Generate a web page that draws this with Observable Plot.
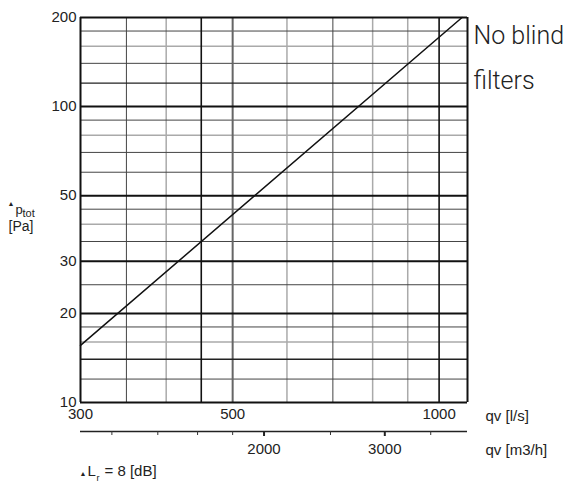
<!DOCTYPE html>
<html>
<head>
<meta charset="utf-8">
<script src="https://cdn.jsdelivr.net/npm/d3@7"></script>
<script src="https://cdn.jsdelivr.net/npm/@observablehq/plot@0.6"></script>
<style>
  html, body { margin: 0; padding: 0; background: #fff; }
  #chart svg { display: block; }
</style>
</head>
<body>
<div id="chart"></div>
<script>
// Data: pressure drop curve (no blind filters)
const qvLs = [300, 1080];          // qv [l/s]
const dpPa = [15.6, 200];          // Δp_tot [Pa]

// Axis ticks
const xTickLabels = [300, 500, 1000];
const yTickLabels = [10, 20, 30, 50, 100, 200];
const m3hMajor = [2000, 3000];
const m3hMinor = [1200, 1400, 1600, 1800, 2500, 3500];

// Grid lines
const yGridMajor = [10, 20, 30, 50, 100, 200];
const yGridMedium = [14, 120];
const yGridLight = [16, 40, 80, 160];
const yGridThin = [12, 18, 25, 35, 45, 60, 70, 90, 140, 180];
const xGridBorder = [300, 1100];
const xGridDark = [450, 1000];
const xGridMid = [500];
const xGridThin = [350, 700];
const xGridLight = [400, 600, 800, 900];

const curve = qvLs.map((q, i) => ({q, p: dpPa[i]}));
const FONT = "'Liberation Sans', Arial, Helvetica, sans-serif";

const chart = Plot.plot({
  width: 574,
  height: 482,
  marginLeft: 80,
  marginRight: 107,
  marginTop: 17,
  marginBottom: 80,
  style: {fontFamily: FONT, fontSize: "15px", background: "#fff", color: "#222"},
  x: {type: "log", domain: [300, 1100]},
  y: {type: "log", domain: [10, 200]},
  marks: [
    // light gray grid
    Plot.ruleX(xGridLight, {stroke: "#aaa", strokeWidth: 1.5}),
    Plot.ruleY(yGridLight, {stroke: "#aaa", strokeWidth: 1.5}),
    // thin dark grid
    Plot.ruleX(xGridThin, {stroke: "#444", strokeWidth: 1}),
    Plot.ruleY(yGridThin, {stroke: "#444", strokeWidth: 1}),
    Plot.ruleX(xGridMid, {stroke: "#666", strokeWidth: 2}),
    Plot.ruleY(yGridMedium, {stroke: "#222", strokeWidth: 1.4}),
    Plot.ruleX(xGridDark, {stroke: "#111", strokeWidth: 1.6}),
    Plot.ruleY(yGridMajor, {stroke: "#111", strokeWidth: 2}),
    Plot.ruleX(xGridBorder, {stroke: "#111", strokeWidth: 2}),
    // curve
    Plot.line(curve, {x: "q", y: "p", stroke: "#111", strokeWidth: 1.5}),
    // axes
    Plot.axisY({ticks: yTickLabels, tickSize: 0, tickPadding: 4, tickFormat: d => String(d), label: null, fontSize: 15}),
    Plot.axisX({ticks: xTickLabels, tickSize: 0, tickPadding: 6, tickFormat: d => String(d), label: null, fontSize: 15}),
    // second x axis (m3/h)
    Plot.ruleY([10], {dy: 29, stroke: "#222", strokeWidth: 1.5}),
    Plot.axisX({ticks: m3hMinor.map(v => v / 3.6), tickSize: 4, tickFormat: () => "", dy: 29, label: null, stroke: "#333", strokeWidth: 1}),
    Plot.axisX({ticks: m3hMajor.map(v => v / 3.6), tickSize: 5, tickPadding: 7, tickFormat: d => String(Math.round(d * 3.6)), dy: 29, label: null, strokeWidth: 2, fontSize: 15}),
    // axis titles
    Plot.text(["qv [l/s]"], {frameAnchor: "bottom-right", dx: 18, dy: 18, textAnchor: "start", lineAnchor: "bottom", fontSize: 15}),
    Plot.text(["qv [m3/h]"], {frameAnchor: "bottom-right", dx: 18, dy: 52, textAnchor: "start", lineAnchor: "bottom", fontSize: 15}),
    // Δp_tot [Pa]
    Plot.text(["▲"], {frameAnchor: "left", dx: -73, dy: -4, textAnchor: "start", lineAnchor: "bottom", fontSize: 7}),
    Plot.text(["p"], {frameAnchor: "left", dx: -65, dy: 3.5, textAnchor: "start", lineAnchor: "bottom", fontSize: 13}),
    Plot.text(["tot"], {frameAnchor: "left", dx: -58, dy: 6.5, textAnchor: "start", lineAnchor: "bottom", fontSize: 11}),
    Plot.text(["[Pa]"], {frameAnchor: "left", dx: -72, dy: 20.5, textAnchor: "start", lineAnchor: "bottom", fontSize: 14}),
    // ΔL_r = 8 [dB]
    Plot.text(["▲"], {frameAnchor: "bottom-left", dx: -1, dy: 73, textAnchor: "start", lineAnchor: "bottom", fontSize: 7}),
    Plot.text(["L"], {frameAnchor: "bottom-left", dx: 7, dy: 73, textAnchor: "start", lineAnchor: "bottom", fontSize: 15}),
    Plot.text(["r"], {frameAnchor: "bottom-left", dx: 16, dy: 78, textAnchor: "start", lineAnchor: "bottom", fontSize: 9}),
    Plot.text(["= 8 [dB]"], {frameAnchor: "bottom-left", dx: 24, dy: 73, textAnchor: "start", lineAnchor: "bottom", fontSize: 15}),
    // series label
    Plot.text(["No blind\nfilters"], {frameAnchor: "top-right", dx: 6, dy: -5.75, textAnchor: "start", lineAnchor: "top", lineHeight: 1.8, fontSize: 25, fontFamily: "Roboto, 'Liberation Sans', sans-serif", fontWeight: 300, fill: "#222"})
  ]
});
document.getElementById("chart").appendChild(chart);
</script>
</body>
</html>
